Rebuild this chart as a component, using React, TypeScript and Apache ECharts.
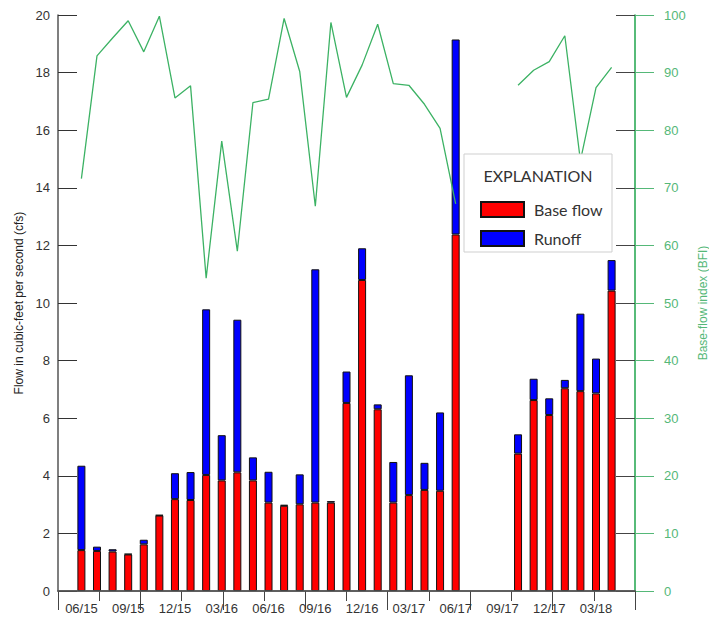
import React, { useEffect, useRef } from "react";
import * as echarts from "echarts";

// Monthly categories (one padding month at each end)
const categories = [
  "05/15", "06/15", "07/15", "08/15", "09/15", "10/15", "11/15", "12/15",
  "01/16", "02/16", "03/16", "04/16", "05/16", "06/16", "07/16", "08/16",
  "09/16", "10/16", "11/16", "12/16", "01/17", "02/17", "03/17", "04/17",
  "05/17", "06/17", "07/17", "08/17", "09/17", "10/17", "11/17", "12/17",
  "01/18", "02/18", "03/18", "04/18", "05/18",
];

// Base flow (cfs)
const baseFlow = [
  null, 1.42, 1.39, 1.37, 1.27, 1.62, 2.62, 3.19, 3.16, 4.03, 3.84, 4.12, 3.84,
  3.07, 2.96, 3.01, 3.07, 3.07, 6.53, 10.8, 6.31, 3.07, 3.33, 3.51, 3.48, 12.38,
  null, null, null, 4.77, 6.63, 6.11, 7.04, 6.94, 6.86, 10.43, null,
];

// Runoff (cfs)
const runoff = [
  null, 2.93, 0.15, 0.08, 0.02, 0.16, 0.02, 0.9, 0.97, 5.75, 1.57, 5.3, 0.8,
  1.07, 0.03, 1.04, 8.1, 0.05, 1.09, 1.1, 0.17, 1.41, 4.16, 0.94, 2.72, 6.77,
  null, null, null, 0.67, 0.74, 0.58, 0.29, 2.69, 1.21, 1.06, null,
];

// Base-flow index (BFI)
const bfi = [
  null, 71.6, 92.9, 96.0, 99.0, 93.6, 99.8, 85.6, 87.7, 54.3, 78.1, 59.0, 84.8,
  85.4, 99.4, 90.2, 66.8, 98.7, 85.7, 91.3, 98.4, 88.1, 87.8, 84.5, 80.3, 67.2,
  null, null, null, 87.8, 90.4, 91.9, 96.4, 74.7, 87.4, 90.9, null,
];

const flowTicks = { min: 0, max: 20, interval: 2 };
const bfiTicks = { min: 0, max: 100, interval: 10 };

const FONT = "'Liberation Sans', Arial, sans-serif";
const GREEN_AXIS = "#1fa54c";
const GREEN_LINE = "#3cb264";
const GREEN_TEXT = "#55b878";

export default function App() {
  const ref = useRef<HTMLDivElement>(null);

  useEffect(() => {
    if (!ref.current) return;
    const chart = echarts.init(ref.current, null, { renderer: "svg" });
    const showQuarter = (i: number) => i >= 1 && (i - 1) % 3 === 0;

    chart.setOption({
      animation: false,
      backgroundColor: "#fff",
      textStyle: { fontFamily: FONT },
      grid: { left: 58, right: 82, top: 15, bottom: 33, containLabel: false, outerBoundsMode: "none" },
      xAxis: [
        {
          type: "category",
          data: categories,
          boundaryGap: true,
          z: 3,
          name: "Date",
          nameLocation: "middle",
          nameGap: 23,
          nameTextStyle: { color: "#222", fontSize: 13, fontFamily: FONT },
          axisLine: { lineStyle: { color: "#555", width: 1.5 } },
          axisTick: {
            alignWithLabel: true,
            inside: true,
            length: 19,
            interval: (i: number) => showQuarter(i),
            lineStyle: { color: "#222", opacity: 0.6 },
          },
          axisLabel: {
            interval: (i: number) => showQuarter(i),
            color: "#333",
            fontSize: 13,
            margin: 11,
            fontFamily: FONT,
          },
          splitLine: { show: false },
        },
        {
          type: "value",
          position: "top",
          min: 0,
          max: 7,
          interval: 1,
          axisLine: { show: true, lineStyle: { color: "#555", width: 1.5 } },
          axisTick: { show: true, inside: true, length: 19, lineStyle: { color: "#444" } },
          minorTick: { show: true, splitNumber: 2, length: 10, lineStyle: { color: "#444" } },
          axisLabel: { show: false },
          splitLine: { show: false },
          minorSplitLine: { show: false },
        },
      ],
      yAxis: [
        {
          type: "value",
          position: "left",
          ...flowTicks,
          name: "Flow in cubic-feet per second (cfs)",
          nameLocation: "middle",
          nameGap: 32,
          nameTextStyle: { color: "#222", fontSize: 12, fontFamily: FONT },
          axisLine: { show: true, lineStyle: { color: "#555", width: 1.5 } },
          axisTick: { show: true, inside: true, length: 19, lineStyle: { color: "#333" } },
          axisLabel: { color: "#333", fontSize: 13, margin: 8, fontFamily: FONT },
          splitLine: { show: false },
        },
        {
          type: "value",
          position: "right",
          ...bfiTicks,
          name: "Base-flow index (BFI)",
          nameLocation: "middle",
          nameGap: 60,
          nameTextStyle: { color: GREEN_TEXT, fontSize: 12, fontFamily: FONT },
          axisLine: { show: true, lineStyle: { color: GREEN_AXIS, width: 1.5 } },
          axisTick: { show: true, inside: false, length: 19, lineStyle: { color: GREEN_TEXT } },
          axisLabel: { color: GREEN_TEXT, fontSize: 13, margin: 29, fontFamily: FONT },
          splitLine: { show: false },
        },
        {
          type: "value",
          position: "right",
          ...flowTicks,
          axisLine: { show: false },
          axisTick: { show: true, inside: true, length: 19, lineStyle: { color: "#444" } },
          axisLabel: { show: false },
          splitLine: { show: false },
        },
      ],
      legend: {
        data: ["Base flow", "Runoff"],
        orient: "vertical",
        left: 475,
        top: 196,
        z: 11,
        itemWidth: 43,
        itemHeight: 15,
        itemGap: 12,
        icon: "rect",
        selectedMode: false,
        textStyle: { color: "#333", fontSize: 16, fontFamily: "Lato, 'Open Sans', sans-serif", padding: [0, 0, 0, 5] },
      },
      graphic: [
        {
          type: "rect",
          z: 10,
          shape: { x: 464, y: 154, width: 148, height: 98 },
          style: { fill: "#fff", stroke: "#cfcfcf", lineWidth: 1 },
        },
        {
          type: "text",
          z: 11,
          x: 538,
          y: 175,
          style: {
            text: "EXPLANATION",
            fill: "#333",
            fontSize: 16,
            fontFamily: "Lato, 'Open Sans', sans-serif",
            align: "center",
            verticalAlign: "middle",
          },
        },
      ],
      series: [
        {
          name: "Base flow",
          type: "bar",
          stack: "flow",
          barWidth: 8,
          data: baseFlow,
          itemStyle: { color: "#ff0000", borderColor: "#111", borderWidth: 1 },
        },
        {
          name: "Runoff",
          type: "bar",
          stack: "flow",
          barWidth: 8,
          data: runoff,
          itemStyle: { color: "#0000ff", borderColor: "#111", borderWidth: 1 },
        },
        {
          name: "BFI",
          type: "line",
          yAxisIndex: 1,
          data: bfi,
          symbol: "none",
          connectNulls: false,
          lineStyle: { color: GREEN_LINE, width: 1.3 },
          z: 4,
        },
      ],
    });
    return () => chart.dispose();
  }, []);

  return <div ref={ref} style={{ width: 717, height: 624, margin: -8 }} />;
}
